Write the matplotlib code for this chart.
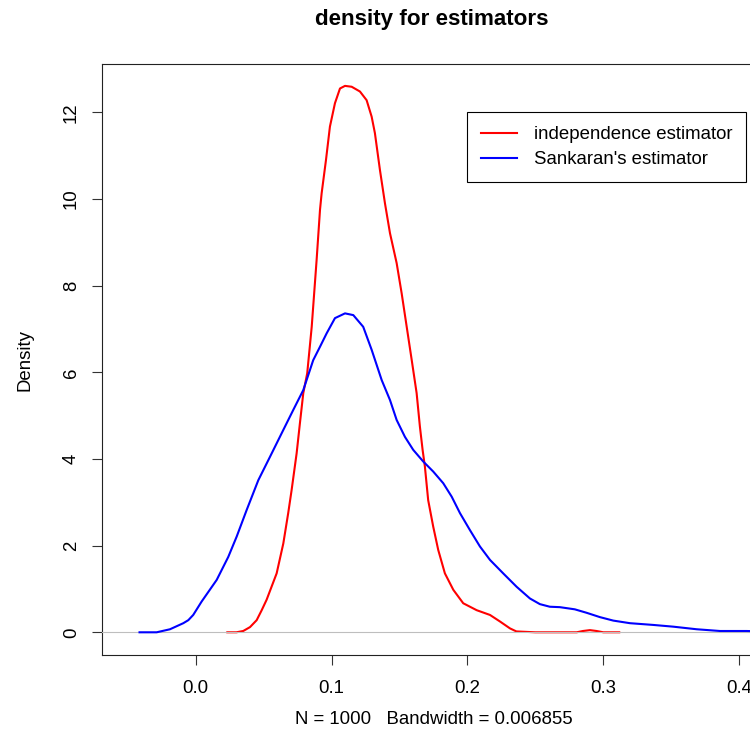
import numpy as np
import matplotlib.pyplot as plt

plt.rcParams['font.family'] = ['Liberation Sans', 'DejaVu Sans']

# independence estimator (red)
indep_x = [0.0233, 0.030, 0.035, 0.040, 0.0449, 0.0486, 0.0522, 0.0596, 0.0645, 0.0681,
           0.0706, 0.0743, 0.0767, 0.0792, 0.0821, 0.0854, 0.089, 0.0915, 0.0927, 0.0959,
           0.0988, 0.1025, 0.1062, 0.1099, 0.1148, 0.1209, 0.1258, 0.1295, 0.1319, 0.1356,
           0.1393, 0.143, 0.1479, 0.1516, 0.1553, 0.159, 0.1626, 0.165, 0.167, 0.1687,
           0.1711, 0.1748, 0.1785, 0.1834, 0.1896, 0.1969, 0.2068, 0.2166, 0.2239, 0.2313,
           0.236, 0.25, 0.27, 0.2804, 0.285, 0.2901, 0.295, 0.30, 0.3117]
indep_y = [0.0, 0.0, 0.03, 0.12, 0.28, 0.51, 0.75, 1.36, 2.05, 2.75,
           3.28, 4.13, 4.82, 5.52, 5.98, 7.05, 8.59, 9.75, 10.13, 10.9,
           11.67, 12.21, 12.55, 12.61, 12.59, 12.48, 12.28, 11.9, 11.52, 10.67,
           9.9, 9.21, 8.52, 7.82, 7.05, 6.28, 5.52, 4.75, 4.21, 3.82,
           3.05, 2.44, 1.9, 1.36, 0.98, 0.67, 0.51, 0.40, 0.25, 0.09,
           0.02, 0.0, 0.0, 0.0, 0.03, 0.05, 0.03, 0.0, 0.0]

# Sankaran's estimator (blue)
sank_x = [-0.0413, -0.0287, -0.0189, -0.0091, -0.0054, -0.0018, 0.0044, 0.0155, 0.024, 0.0302,
          0.0375, 0.0461, 0.0547, 0.0645, 0.0718, 0.0792, 0.0865, 0.0915, 0.0964, 0.1025,
          0.1099, 0.116, 0.1233, 0.1295, 0.1369, 0.143, 0.1479, 0.154, 0.1601, 0.1675,
          0.1748, 0.1822, 0.1884, 0.1945, 0.2018, 0.2092, 0.2166, 0.2263, 0.2362, 0.246,
          0.2533, 0.2606, 0.268, 0.279, 0.2877, 0.2975, 0.3073, 0.3196, 0.3367, 0.3514,
          0.3687, 0.3858, 0.4054, 0.43, 0.45]
sank_y = [0.0, 0.0, 0.07, 0.21, 0.28, 0.40, 0.71, 1.21, 1.74, 2.21,
          2.82, 3.51, 4.05, 4.67, 5.13, 5.59, 6.28, 6.59, 6.90, 7.25,
          7.36, 7.32, 7.05, 6.52, 5.82, 5.36, 4.9, 4.51, 4.21, 3.94,
          3.71, 3.44, 3.13, 2.75, 2.36, 1.98, 1.67, 1.36, 1.05, 0.78,
          0.65, 0.59, 0.58, 0.53, 0.45, 0.35, 0.27, 0.21, 0.17, 0.13,
          0.07, 0.03, 0.03, 0.01, 0.0]

xticks = [0.0, 0.1, 0.2, 0.3, 0.4]
xticklabels = ['0.0', '0.1', '0.2', '0.3', '0.4']
yticks = [0, 2, 4, 6, 8, 10, 12]
labels = ['independence estimator', "Sankaran's estimator"]

W, H = 750, 746
fs = 13.4
fig = plt.figure(figsize=(W / 100, H / 100), dpi=100)
ax = fig.add_axes([102.3 / W, (H - 655) / H, (763.7 - 102.3) / W, (655 - 64) / H])

ax.plot(indep_x, indep_y, color='#FF0000', lw=1.5, zorder=2, label=labels[0],
        solid_joinstyle='round')
ax.axhline(0, color='#BEBEBE', lw=0.8, zorder=3)
ax.plot(sank_x, sank_y, color='#0000FF', lw=1.5, zorder=4, label=labels[1],
        solid_joinstyle='round')

ax.set_xlim(-0.0687, 0.418)
ax.set_ylim(-0.524, 13.115)
ax.set_xticks(xticks)
ax.set_xticklabels(xticklabels)
ax.set_yticks(yticks)
ax.tick_params(length=7, width=0.8, labelsize=fs, color='#333333')
ax.tick_params(axis='x', pad=11)
ax.tick_params(axis='y', pad=9)
plt.setp(ax.get_yticklabels(), rotation=90, va='center', ha='right')
for s in ax.spines.values():
    s.set_linewidth(0.8)
    s.set_color('#222222')

fig.text(432 / W, 1 - 19 / H, 'density for estimators', ha='center', va='center',
         fontsize=fs * 1.2, fontweight='bold')
fig.text(434 / W, 1 - 720 / H, 'N = 1000   Bandwidth = 0.006855', ha='center', va='center',
         fontsize=fs)
fig.text(25 / W, 1 - 360 / H, 'Density', ha='center', va='center', rotation=90, fontsize=fs)

leg = ax.legend(loc='upper left', bbox_to_anchor=(467.3 / W, 1 - 112.3 / H),
                bbox_transform=fig.transFigure, fontsize=fs, frameon=True, fancybox=False,
                framealpha=1, edgecolor='black', borderaxespad=0, borderpad=0.75,
                handlelength=1.93, handletextpad=0.9, labelspacing=0.42)
leg.get_frame().set_linewidth(0.8)

fig.savefig('out.png', dpi=100)
